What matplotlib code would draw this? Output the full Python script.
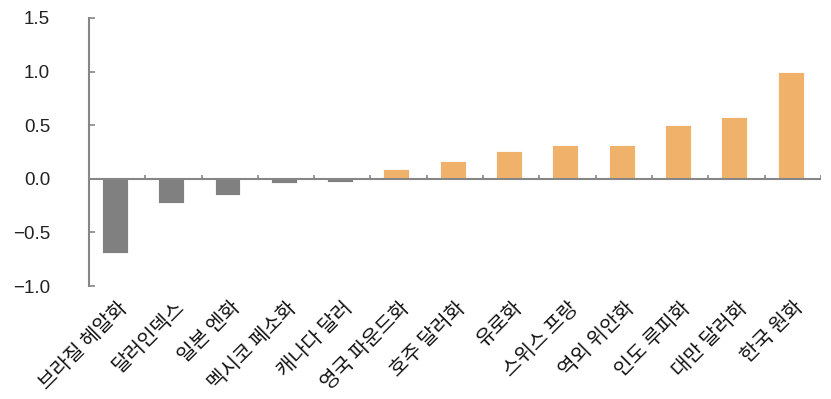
import matplotlib.pyplot as plt
import numpy as np

plt.rcParams['font.family'] = ['Noto Sans CJK KR', 'DejaVu Sans']

currencies = ['브라질 헤알화', '달러인덱스', '일본 엔화', '멕시코 페소화', '캐나다 달러',
              '영국 파운드화', '호주 달러화', '유로화', '스위스 프랑', '역외 위안화',
              '인도 루피화', '대만 달러화', '한국 원화']
changes = [-0.69, -0.23, -0.15, -0.04, -0.03, 0.09, 0.17, 0.26, 0.32, 0.32, 0.505, 0.58, 1.0]
y_ticks = [-1.0, -0.5, 0.0, 0.5, 1.0, 1.5]

gray = '#808080'
orange = '#F0B16B'
axis_col = '#868686'

fig = plt.figure(figsize=(8.31, 3.99), dpi=100)
ax = fig.add_axes([0.107, 0.283, 0.881, 0.672])

x = np.arange(len(currencies))
colors = [gray if v < 0 else orange for v in changes]
ax.bar(x - 0.04, changes, width=0.46, color=colors, edgecolor='white', linewidth=0.6, zorder=2)

ax.set_xlim(-0.5, len(currencies) - 0.5)
ax.set_ylim(-1.0, 1.5)
ax.set_yticks(y_ticks)
ax.set_yticklabels(['\u22121.0', '\u22120.5', '0.0', '0.5', '1.0', '1.5'])
ax.tick_params(axis='y', direction='in', length=4, width=1.2, color=axis_col,
               labelsize=13.5, pad=28, labelcolor='#222222')
for lab in ax.get_yticklabels():
    lab.set_family(['Liberation Sans', 'DejaVu Sans'])

ax.set_xticks(x)
ax.set_xticklabels(currencies, rotation=45, ha='right', rotation_mode='anchor')
ax.tick_params(axis='x', length=0, labelsize=14.5, pad=8, labelcolor='#111111')

for s in ['top', 'right', 'bottom']:
    ax.spines[s].set_visible(False)
ax.spines['left'].set_color(axis_col)
ax.spines['left'].set_linewidth(1.5)

# zero line with category separators
ax.axhline(0, color=axis_col, linewidth=1.5, zorder=3)
bounds = np.arange(len(currencies)) + 0.5
ax.vlines(bounds, 0, 0.04, color=axis_col, linewidth=1.2, zorder=3)

fig.savefig('out.png', dpi=100)
